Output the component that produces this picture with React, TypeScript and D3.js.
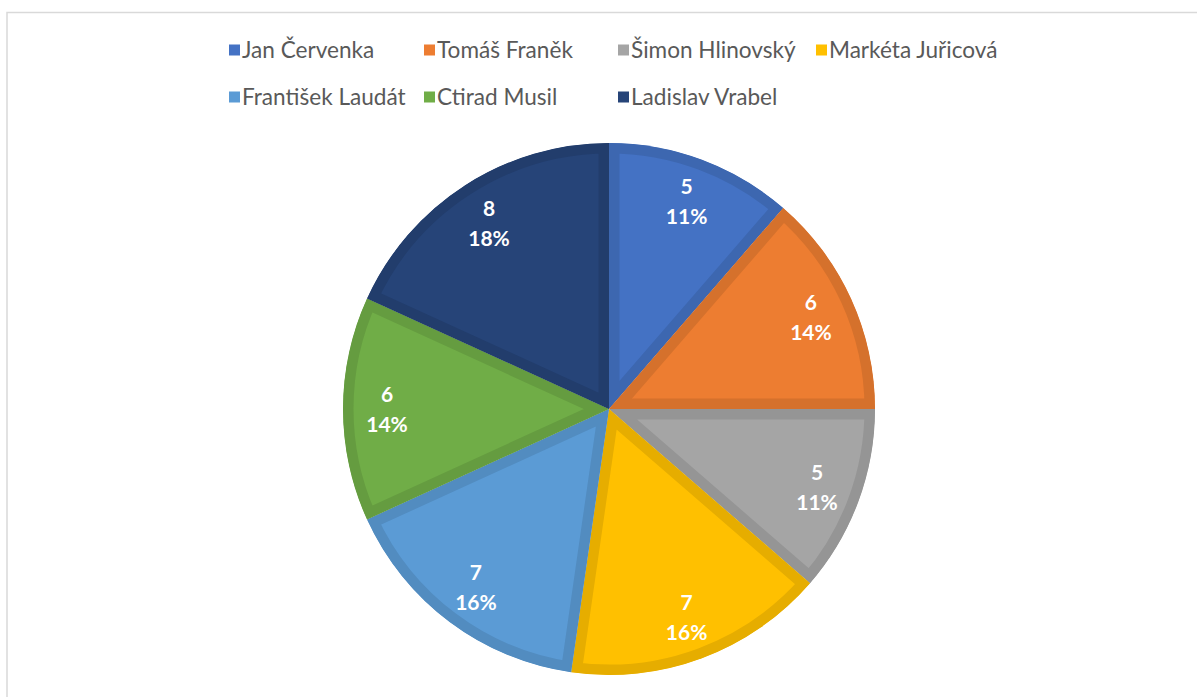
import React from "react";
import * as d3 from "d3";

const names = [
  "Jan Červenka",
  "Tomáš Franěk",
  "Šimon Hlinovský",
  "Markéta Juřicová",
  "František Laudát",
  "Ctirad Musil",
  "Ladislav Vrabel",
];
const values = [5, 6, 5, 7, 7, 6, 8];
const colors = ["#4472C4", "#ED7D31", "#A5A5A5", "#FFC000", "#5B9BD5", "#70AD47", "#264478"];

const W = 1197;
const H = 697;
const cx = 609;
const cy = 409;
const R = 266;
const labelR = 222;
const legendCols = [229, 424, 618, 816];
const legendRows = [50, 97];

function darker(c: string) {
  const r = d3.rgb(c);
  return d3.rgb(r.r * 0.9, r.g * 0.9, r.b * 0.9).formatHex();
}

export default function App() {
  const total = d3.sum(values);
  const pie = d3.pie<number>().sort(null).value((d) => d);
  const arcs = pie(values);
  const arc = d3.arc<d3.PieArcDatum<number>>().innerRadius(0).outerRadius(R);
  const labelArc = d3.arc<d3.PieArcDatum<number>>().innerRadius(labelR).outerRadius(labelR);
  const fmt = d3.format(".0%");

  return (
    <svg width={W} height={H} style={{ position: "absolute", left: 0, top: 0 }}>
      <rect x={0} y={0} width={W} height={H} fill="#fff" />
      <path d={`M7,${H} L7,12.5 L${W},12.5`} fill="none" stroke="#D9D9D9" strokeWidth={1.5} />
      <defs>
        {arcs.map((a, i) => (
          <clipPath id={`clip${i}`} key={i}>
            <path d={arc(a) || ""} />
          </clipPath>
        ))}
      </defs>
      <g transform={`translate(${cx},${cy})`}>
        {arcs.map((a, i) => (
          <path
            key={i}
            d={arc(a) || ""}
            fill={colors[i]}
            stroke={darker(colors[i])}
            strokeWidth={21}
            strokeLinejoin="miter"
            clipPath={`url(#clip${i})`}
          />
        ))}
      </g>
      <g fontFamily="Lato, 'Open Sans', sans-serif" fontWeight="bold" fontSize={21} fill="#fff" textAnchor="middle">
        {arcs.map((a, i) => {
          const [x, y] = labelArc.centroid(a);
          return (
            <g key={i} transform={`translate(${cx + x},${cy + y})`}>
              <text y={-14} dy="0.35em">{values[i]}</text>
              <text y={16} dy="0.35em">{fmt(values[i] / total)}</text>
            </g>
          );
        })}
      </g>
      <g fontFamily="Lato, 'Open Sans', sans-serif" fontSize={22.6} fill="#595959">
        {names.map((n, i) => {
          const col = i < 4 ? i : i - 4;
          const row = i < 4 ? 0 : 1;
          const x = legendCols[col];
          const y = legendRows[row];
          return (
            <g key={i}>
              <rect x={x} y={y - 5.5} width={11} height={11} fill={colors[i]} />
              <text x={x + 13} y={y} dy="0.35em">{n}</text>
            </g>
          );
        })}
      </g>
    </svg>
  );
}
